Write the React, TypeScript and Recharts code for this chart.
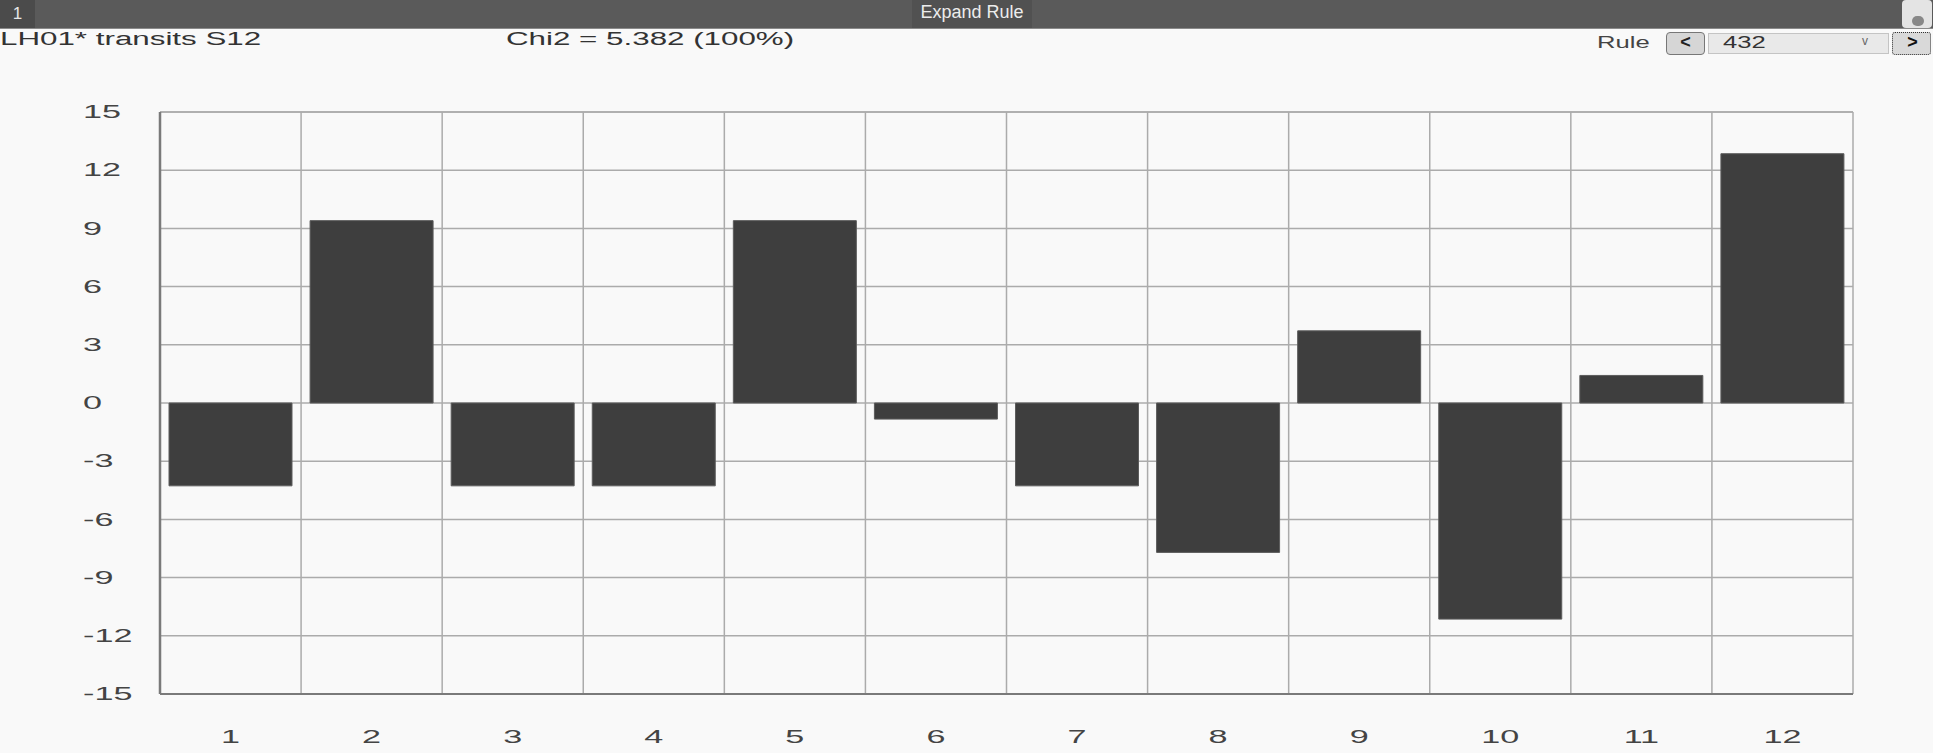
import React from 'react';
import { BarChart, Bar, XAxis, YAxis, CartesianGrid, ReferenceLine } from 'recharts';

const categories = ['1', '2', '3', '4', '5', '6', '7', '8', '9', '10', '11', '12'];
const deviations = [-4.27, 9.4, -4.27, -4.27, 9.4, -0.83, -4.27, -7.7, 3.72, -11.14, 1.42, 12.85];
const yTicks = [-15, -12, -9, -6, -3, 0, 3, 6, 9, 12, 15];

const headerTitle = 'Expand Rule';
const tabLabel = '1';
const chartLabel = 'LH01* transits S12';
const chiLabel = 'Chi2 = 5.382 (100%)';
const ruleLabel = 'Rule';
const ruleValue = '432';

const data = categories.map((c, i) => ({ name: c, value: deviations[i] }));

const FONT = '"Liberation Sans", Arial, sans-serif';
const SX = 1.74;
const TSX = 1.9;

const YTick = (props: any) => {
  const { x, y, payload } = props;
  return (
    <text
      transform={`translate(${x - 77},${y}) scale(${TSX},1)`}
      dominantBaseline="central"
      fontSize={18}
      fontFamily={FONT}
      fill="#444"
    >
      {payload.value}
    </text>
  );
};

const XTick = (props: any) => {
  const { x, y, payload } = props;
  return (
    <text
      transform={`translate(${x},${y}) scale(${TSX},1)`}
      textAnchor="middle"
      dominantBaseline="central"
      fontSize={18}
      fontFamily={FONT}
      fill="#444"
    >
      {payload.value}
    </text>
  );
};

const stretched = (left: number, top: number, text: string, size: number, sx: number, color: string) => (
  <div
    style={{
      position: 'absolute',
      left,
      top,
      fontSize: size,
      lineHeight: `${size}px`,
      fontFamily: FONT,
      color,
      whiteSpace: 'nowrap',
      transform: `scaleX(${sx})`,
      transformOrigin: 'left center',
    }}
  >
    {text}
  </div>
);

export default function App() {
  return (
    <div
      style={{
        position: 'absolute',
        left: 0,
        top: 0,
        width: 1933,
        height: 753,
        background: '#f9f9f9',
        overflow: 'hidden',
        fontFamily: FONT,
      }}
    >
      {/* header bar */}
      <div style={{ position: 'absolute', left: 0, top: 0, width: 1933, height: 28, background: '#5a5a5a', borderBottom: '1px solid #8a8a8a' }} />
      <div style={{ position: 'absolute', left: 0, top: 0, width: 35, height: 28, background: '#4b4b4b' }} />
      <div style={{ position: 'absolute', left: 0, top: 5, width: 35, textAlign: 'center', color: '#e6e6e6', fontSize: 17, lineHeight: '17px' }}>{tabLabel}</div>
      <div style={{ position: 'absolute', left: 912, top: 0, width: 120, height: 28, background: '#515151' }} />
      <div style={{ position: 'absolute', left: 912, top: 3, width: 120, textAlign: 'center', color: '#ececec', fontSize: 18, lineHeight: '18px' }}>{headerTitle}</div>
      <div style={{ position: 'absolute', left: 1902, top: 0, width: 30, height: 28, background: '#e4e4e4', borderRadius: 4 }} />
      <div style={{ position: 'absolute', left: 1912, top: 16, width: 12, height: 10, background: '#888', borderRadius: 5 }} />

      {/* second row */}
      {stretched(0, 30, chartLabel, 18, SX, '#333')}
      {stretched(506, 30, chiLabel, 18, SX, '#333')}
      {stretched(1597, 35, ruleLabel, 16, 1.6, '#444')}

      <div style={{ position: 'absolute', left: 1666, top: 32, width: 37, height: 21, border: '1px solid #777', borderRadius: 4, background: '#d6d6d6' }} />
      <div style={{ position: 'absolute', left: 1666, top: 33, width: 39, textAlign: 'center', fontSize: 18, lineHeight: '18px', color: '#222', fontWeight: 'bold' }}>{'<'}</div>

      <div style={{ position: 'absolute', left: 1708, top: 33, width: 179, height: 19, border: '1px solid #c4c4c4', background: '#e9e9e9' }} />
      {stretched(1723, 35, ruleValue, 16, 1.6, '#333')}
      <div style={{ position: 'absolute', left: 1862, top: 34, fontSize: 12, lineHeight: '14px', color: '#666' }}>{'v'}</div>

      <div style={{ position: 'absolute', left: 1892, top: 32, width: 37, height: 21, border: '1px dotted #333', borderRadius: 3, background: '#d9d9d9' }} />
      <div style={{ position: 'absolute', left: 1892, top: 33, width: 41, textAlign: 'center', fontSize: 18, lineHeight: '18px', color: '#111', fontWeight: 'bold' }}>{'>'}</div>

      {/* chart */}
      <div style={{ position: 'absolute', left: 0, top: 0 }}>
        <BarChart
          width={1933}
          height={753}
          data={data}
          margin={{ top: 112, right: 80, bottom: 0, left: 0 }}
          barCategoryGap={9}
        >
          <CartesianGrid
            stroke="#ababab"
            strokeWidth={1.5}
            verticalCoordinatesGenerator={(p: any) => {
              const off = p.offset;
              return categories.concat(['']).map((_, i) => off.left + (i * off.width) / categories.length);
            }}
          />
          <XAxis
            dataKey="name"
            height={59}
            tickSize={0}
            tickMargin={43}
            tick={<XTick />}
            axisLine={{ stroke: '#7a7a7a', strokeWidth: 2 }}
            tickLine={false}
            interval={0}
          />
          <YAxis
            width={160}
            domain={[-15, 15]}
            ticks={yTicks}
            tickSize={0}
            tickMargin={0}
            tick={<YTick />}
            axisLine={{ stroke: '#7a7a7a', strokeWidth: 2.5 }}
            tickLine={false}
            allowDataOverflow
          />
          <ReferenceLine y={15} stroke="#ababab" strokeWidth={1.5} />
          <Bar dataKey="value" fill="#3e3e3e" stroke="#5c5c5c" strokeWidth={1} isAnimationActive={false} />
        </BarChart>
      </div>
    </div>
  );
}
